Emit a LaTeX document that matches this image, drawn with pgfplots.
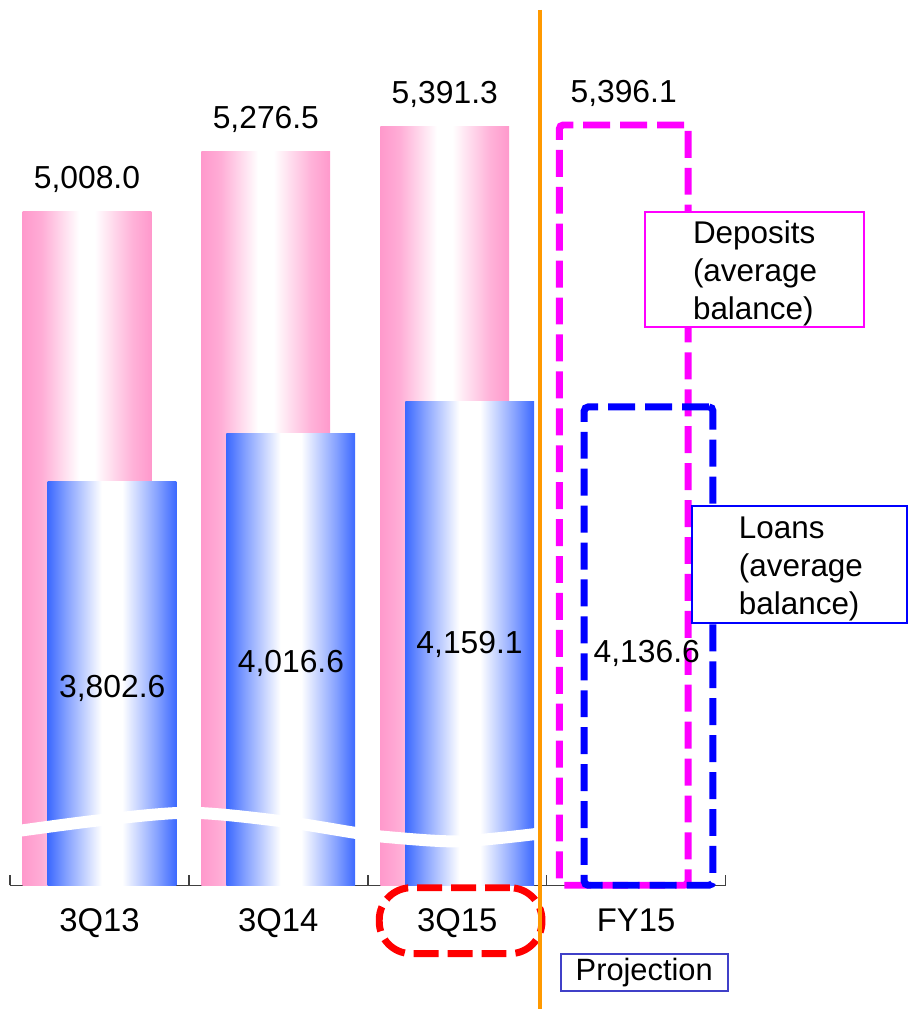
\documentclass[border=0pt]{standalone}
\usepackage{fontspec}
\setmainfont{Liberation Sans}
\usepackage{pgfplots}
\pgfplotsset{compat=1.18}
\definecolor{pinkc}{RGB}{255,153,204}
\definecolor{bluec}{RGB}{60,105,255}
\definecolor{magc}{RGB}{255,0,255}
\definecolor{bdash}{RGB}{0,0,255}
\definecolor{orangec}{RGB}{255,153,0}
\definecolor{redc}{RGB}{255,0,0}
\definecolor{projc}{RGB}{64,64,200}
\definecolor{axisgray}{RGB}{64,64,64}
\pgfdeclarehorizontalshading{blueshade}{100bp}{color(0bp)=(bluec); color(25bp)=(bluec); color(32.5bp)=(bluec!62!white); color(46bp)=(white); color(54bp)=(white); color(67.5bp)=(bluec!62!white); color(75bp)=(bluec); color(100bp)=(bluec)}
\pgfdeclarehorizontalshading{pinkshade}{100bp}{color(0bp)=(pinkc); color(25bp)=(pinkc); color(32.5bp)=(pinkc!80!white); color(47bp)=(white); color(53bp)=(white); color(67.5bp)=(pinkc!75!white); color(75bp)=(pinkc); color(100bp)=(pinkc)}
\begin{document}
\begin{tikzpicture}
\begin{axis}[
  name=ax,
  at={(0,0)}, anchor=south west,
  scale only axis,
  width=358.5bp, height=438.5bp,
  xmin=-0.5, xmax=3.5,
  ymin=0, ymax=3910,
  y filter/.expression={y-2000},
  clip=false,
  axis x line=bottom, axis y line=none,
  x axis line style={-, draw=axisgray, line width=0.75bp},
  xtick={0,1,2,3},
  xticklabels={3Q13,3Q14,3Q15,FY15},
  major x tick style={draw=none},
  minor xtick={-0.5,0.5,1.5,2.5,3.5},
  minor tick length=5bp,
  minor x tick style={draw=axisgray, line width=0.75bp},
  tick align=inside,
  xticklabel style={font=\fontsize{16.5}{19}\selectfont, anchor=base, yshift=-23bp},
  /pgf/number format/assume math mode=true,
]
% Deposits (pink)
\addplot[ybar, bar width=64.5bp, bar shift=-6.25bp, draw=none, shading=pinkshade] coordinates {(0,5008.0)};
\addplot[ybar, bar width=64.5bp, bar shift=-6.25bp, draw=none, shading=pinkshade] coordinates {(1,5276.5)};
\addplot[ybar, bar width=64.5bp, bar shift=-6.25bp, draw=none, shading=pinkshade] coordinates {(2,5391.3)};
% Loans (blue)
\addplot[ybar, bar width=64.5bp, bar shift=6.25bp, draw=none, shading=blueshade] coordinates {(0,3802.6)};
\addplot[ybar, bar width=64.5bp, bar shift=6.25bp, draw=none, shading=blueshade] coordinates {(1,4016.6)};
\addplot[ybar, bar width=64.5bp, bar shift=6.25bp, draw=none, shading=blueshade] coordinates {(2,4159.1)};
% axis break band
\addplot[white, line width=6bp, smooth, mark=none] coordinates {(-0.45,2243) (0,2290) (0.5,2324) (1,2288) (1.43,2234) (1.57,2218) (2,2196) (2.45,2230)};
% FY15 projection
\addplot[ybar, bar width=64.5bp, bar shift=-6.25bp, draw=magc, fill=none, line width=3.5bp, dash pattern=on 13.5bp off 5bp, rounded corners=2bp] coordinates {(3,5396.1)};
\addplot[ybar, bar width=64.5bp, bar shift=6.25bp, draw=bdash, fill=none, line width=3.5bp, dash pattern=on 13.5bp off 5bp, rounded corners=2bp] coordinates {(3,4136.6)};
% deposit value labels
\addplot[draw=none, mark=none, point meta=rawy,
  nodes near coords={\pgfmathprintnumber[fixed,fixed zerofill,precision=1,1000 sep={,}]{\pgfplotspointmeta}},
  every node near coord/.append style={text=black, font=\fontsize{16}{19}\selectfont, anchor=base, yshift=11.5bp, xshift=-6.25bp}]
  coordinates {(0,5008.0) (1,5276.5) (2,5391.3) (3,5396.1)};
\end{axis}
\begin{scope}[shift={(ax.south west)}, x=0.5bp, y=-0.5bp, shift={(-10,-887)}]
  \node[anchor=base, font=\fontsize{16}{19}\selectfont] at (112.5,699) {3,802.6};
  \node[anchor=base, font=\fontsize{16}{19}\selectfont] at (291.5,674) {4,016.6};
  \node[anchor=base, font=\fontsize{16}{19}\selectfont] at (470.5,655) {4,159.1};
  \node[anchor=base, font=\fontsize{16}{19}\selectfont] at (648,664) {4,136.6};
  \node[draw=redc, line width=3.5bp, dash pattern=on 12.5bp off 4.5bp, rounded corners=16bp, minimum width=81.5bp, minimum height=33bp, inner sep=0] at (461.5,922.5) {};
  \draw[orangec, line width=2bp] (541,10) -- (541,1011);
  \draw[magc, line width=1bp, fill=white] (646,212) rectangle (866,328);
  \node[anchor=west, align=left, font=\fontsize{15.8}{19.2}\selectfont, inner sep=0] at (694,274) {Deposits\\(average\\balance)};
  \draw[bdash, line width=1bp, fill=white] (693,507) rectangle (909,624);
  \node[anchor=west, align=left, font=\fontsize{15.8}{19.2}\selectfont, inner sep=0] at (740,570) {Loans\\(average\\balance)};
  \node[draw=projc, line width=1bp, minimum width=83.5bp, minimum height=18.5bp, inner sep=0, font=\fontsize{15.5}{18}\selectfont] at (645.5,974) {Projection};
  \path[use as bounding box] (0,0) rectangle (911,1011);
\end{scope}
\end{tikzpicture}
\end{document}
